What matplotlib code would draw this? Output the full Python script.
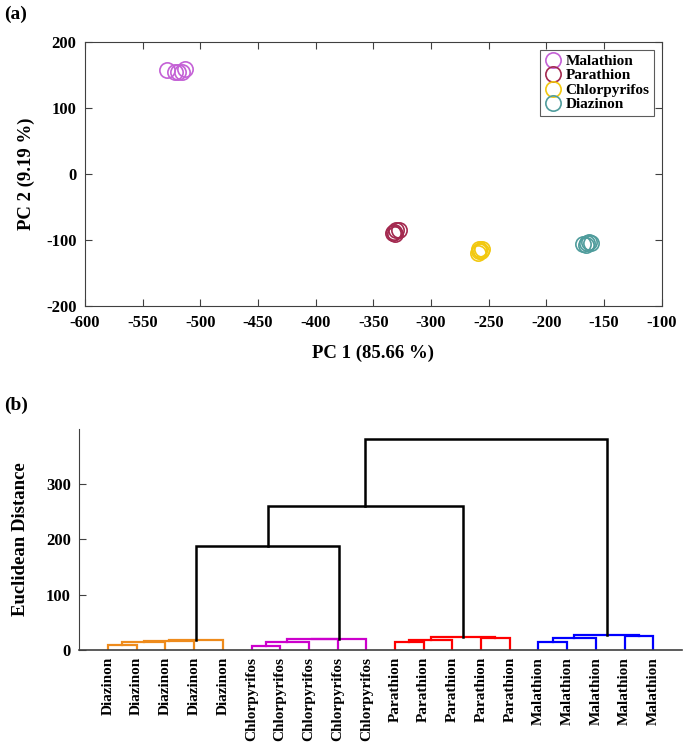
import matplotlib
matplotlib.use("Agg")
import matplotlib.pyplot as plt

plt.rcParams["font.family"] = ["Liberation Serif", "DejaVu Serif"]
plt.rcParams["font.weight"] = "bold"
plt.rcParams["axes.unicode_minus"] = False

# ---- PCA scores (panel a) ----
pesticides = ["Malathion", "Parathion", "Chlorpyrifos", "Diazinon"]
pc1_malathion = [-529, -522, -519, -516, -513]
pc2_malathion = [157, 155, 154, 155, 159]
pc1_parathion = [-333, -330, -332, -328, -331]
pc2_parathion = [-89, -85, -87, -84, -90]
pc1_chlorpyrifos = [-259, -257, -258, -256, -258]
pc2_chlorpyrifos = [-119, -116, -114, -113, -117]
pc1_diazinon = [-168, -165, -163, -161, -166]
pc2_diazinon = [-106, -104, -103, -105, -107]
pca_colors = ["#C461D6", "#A3294F", "#F2C80F", "#4F9C9C"]

# ---- hierarchical clustering (panel b), MATLAB-style linkage ----
leaf_labels = ["Diazinon"] * 5 + ["Chlorpyrifos"] * 5 + ["Parathion"] * 5 + ["Malathion"] * 5
# (child i, child j, height); leaves are 1..20, new clusters numbered from 21
linkage = [
    (1, 2, 9), (21, 3, 15), (22, 4, 17), (23, 5, 17.5),
    (6, 7, 8), (25, 8, 15), (26, 9, 19), (27, 10, 20.5),
    (11, 12, 14), (29, 13, 18), (14, 15, 21), (30, 31, 24),
    (16, 17, 15), (33, 18, 22), (19, 20, 26), (34, 35, 27),
    (24, 28, 187), (37, 32, 260), (38, 36, 380),
]
group_colors = ["#EE8B1C", "#CC00CC", "#FF0000", "#0000FF"]
color_threshold = 100

fig = plt.figure(figsize=(6.85, 7.45), dpi=100)
axis_gray = "#404040"

# ---------------- panel (a) ----------------
ax1 = fig.add_axes([0.124, 0.589, 0.842, 0.3546])
series = [
    (pc1_malathion, pc2_malathion),
    (pc1_parathion, pc2_parathion),
    (pc1_chlorpyrifos, pc2_chlorpyrifos),
    (pc1_diazinon, pc2_diazinon),
]
for (xs, ys), name, c in zip(series, pesticides, pca_colors):
    ax1.plot(xs, ys, "o", ms=11, mfc="none", mec=c, mew=1.2, ls="none", label=name)
ax1.set_xlim(-600, -100)
ax1.set_ylim(-200, 200)
ax1.set_xticks(range(-600, -99, 50))
ax1.set_yticks(range(-200, 201, 100))
ax1.tick_params(direction="in", top=True, right=True, labelsize=12, length=5,
                color=axis_gray, pad=6)
for s in ax1.spines.values():
    s.set_color(axis_gray)
ax1.set_xlabel("PC 1 (85.66 %)", fontsize=13.5, fontweight="bold", labelpad=10)
ax1.set_ylabel("PC 2 (9.19 %)", fontsize=13.5, fontweight="bold", labelpad=8)
leg = ax1.legend(loc="upper right", fontsize=11, handletextpad=0.2,
                 borderaxespad=0.5, labelspacing=0.05, handlelength=1.2,
                 fancybox=False, edgecolor="#333333", borderpad=0.3)
leg.get_frame().set_linewidth(0.8)

# ---------------- panel (b) ----------------
ax2 = fig.add_axes([0.1158, 0.1275, 0.8798, 0.2967])
n_leaves = len(leaf_labels)
xpos = {k: float(k) for k in range(1, n_leaves + 1)}
ypos = {k: 0.0 for k in range(1, n_leaves + 1)}
members = {k: {k} for k in range(1, n_leaves + 1)}
leaf_group = {k: (k - 1) // 5 for k in range(1, n_leaves + 1)}

for n, (i, j, h) in enumerate(linkage):
    node = n_leaves + 1 + n
    groups = {leaf_group[m] for m in members[i] | members[j]}
    if h < color_threshold and len(groups) == 1:
        col = group_colors[groups.pop()]
        lw = 1.6
    else:
        col = "black"
        lw = 1.8
    ax2.plot([xpos[i], xpos[i], xpos[j], xpos[j]], [ypos[i], h, h, ypos[j]],
             color=col, lw=lw, solid_joinstyle="miter")
    xpos[node] = (xpos[i] + xpos[j]) / 2
    ypos[node] = h
    members[node] = members[i] | members[j]

ax2.set_xlim(0, n_leaves + 1)
ax2.set_ylim(0, 399)
ax2.set_xticks(range(1, n_leaves + 1))
ax2.set_xticklabels(leaf_labels, rotation=90, fontsize=11, fontweight="bold")
ax2.set_yticks([0, 100, 200, 300])
ax2.tick_params(axis="y", direction="in", labelsize=12, length=5, color=axis_gray, pad=6)
ax2.tick_params(axis="x", length=0, pad=5)
ax2.spines["top"].set_visible(False)
ax2.spines["right"].set_visible(False)
ax2.spines["left"].set_color(axis_gray)
ax2.spines["bottom"].set_color(axis_gray)
ax2.spines["bottom"].set_linewidth(1.2)
ax2.set_ylabel("Euclidean Distance", fontsize=13.5, fontweight="bold", labelpad=12)

fig.text(0.006, 0.981, "(a)", fontsize=14, fontweight="bold", va="center")
fig.text(0.006, 0.456, "(b)", fontsize=14, fontweight="bold", va="center")

fig.savefig("out.png", dpi=100)
plt.close(fig)
